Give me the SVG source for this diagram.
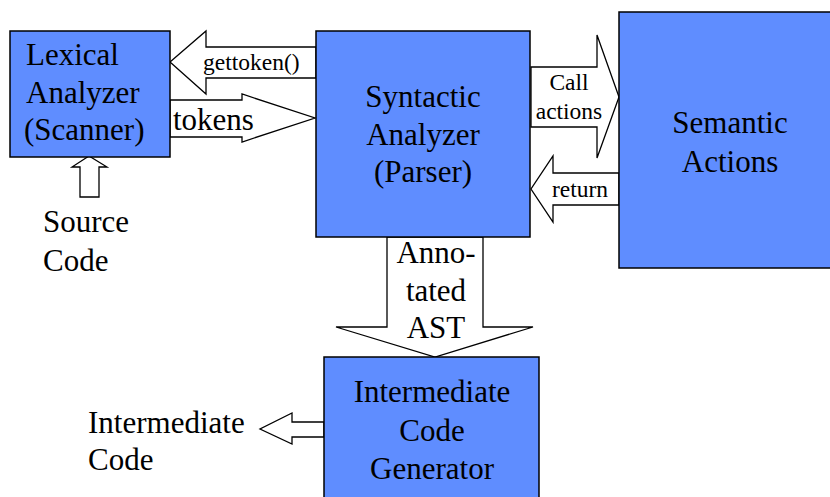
<svg xmlns="http://www.w3.org/2000/svg" width="830" height="497" viewBox="0 0 830 497" font-family="Liberation Serif">
<style>
.box{fill:#5f8dff;stroke:#000;stroke-width:1.5}
.arr{fill:#fff;stroke:#000;stroke-width:1.3;stroke-linejoin:miter}
.t{font-size:31px}
.s{font-size:23.5px}
.m{text-anchor:middle}
</style>
<rect width="830" height="497" fill="#fff"/>
<g id="connectors">
  <polygon class="arr" points="316,47 206,47 206,31 170,62 206,94 206,78 316,78"/>
  <polygon class="arr" points="170,100 242,100 242,94 315,118 242,142 242,137 170,137"/>
  <polygon class="arr" points="531,67 597,67 597,35 619,97 597,158 597,127 531,127"/>
  <polygon class="arr" points="619,173 553,173 553,156 531,189 553,222 553,205 619,205"/>
  <polygon class="arr" points="387,237 483,237 483,327 533,327 435,357 336,327 387,327"/>
  <polygon class="arr" points="80,197 99,197 99,167 107,167 89,156 72,167 80,167"/>
  <polygon class="arr" points="324,422 292,422 292,413 260,429 292,444 292,437 324,437"/>
  <text class="s" x="203" y="70">gettoken()</text>
  <text class="t" x="173" y="130">tokens</text>
  <text class="s m" x="569" y="90">Call</text>
  <text class="s m" x="569" y="119">actions</text>
  <text class="s m" x="580" y="197">return</text>
  <text class="t m" x="436" y="263">Anno-</text>
  <text class="t m" x="436" y="301">tated</text>
  <text class="t m" x="436" y="338">AST</text>
</g>
<g id="lexical">
  <rect class="box" x="10" y="31" width="160" height="126"/>
  <text class="t" x="26" y="65">Lexical</text>
  <text class="t" x="26" y="103">Analyzer</text>
  <text class="t" x="24" y="140">(Scanner)</text>
</g>
<g id="syntactic">
  <rect class="box" x="316" y="31" width="214" height="206"/>
  <text class="t m" x="423" y="107">Syntactic</text>
  <text class="t m" x="423" y="145">Analyzer</text>
  <text class="t m" x="423" y="182">(Parser)</text>
</g>
<g id="semantic">
  <rect class="box" x="619" y="12" width="215" height="256"/>
  <text class="t m" x="730" y="133">Semantic</text>
  <text class="t m" x="730" y="172">Actions</text>
</g>
<g id="intermediate">
  <rect class="box" x="324" y="357" width="215" height="145"/>
  <text class="t m" x="432" y="402">Intermediate</text>
  <text class="t m" x="432" y="441">Code</text>
  <text class="t m" x="432" y="479">Generator</text>
</g>
<g id="source">
  <text class="t" x="43" y="232">Source</text>
  <text class="t" x="43" y="271">Code</text>
</g>
<g id="intcode">
  <text class="t" x="88" y="433">Intermediate</text>
  <text class="t" x="88" y="470">Code</text>
</g>
</svg>
